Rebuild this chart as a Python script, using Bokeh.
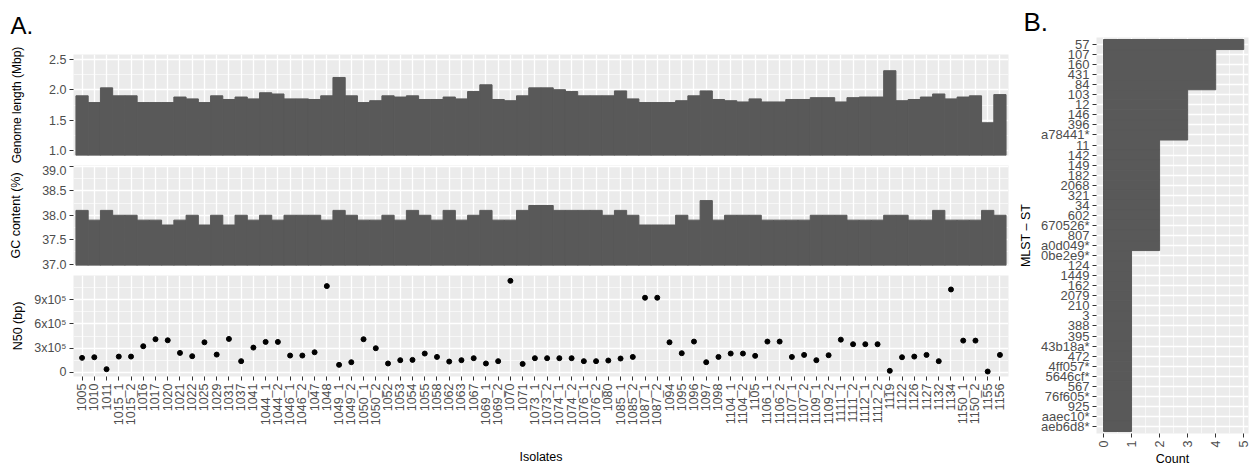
from math import pi
from bokeh.plotting import figure
from bokeh.models import FactorRange, Range1d, FixedTicker
from bokeh.layouts import row, column
from bokeh.embed import file_html
from bokeh.resources import INLINE

# ---------------- data ----------------
isolates = ["1005", "1010", "1011", "1015_1", "1015_2", "1016", "1017", "1020", "1021", "1022",
            "1025", "1029", "1031", "1037", "1041", "1044_1", "1044_2", "1046_1", "1046_2", "1047",
            "1048", "1049_1", "1049_2", "1050_1", "1050_2", "1052", "1053", "1054", "1055", "1058",
            "1062", "1063", "1067", "1069_1", "1069_2", "1070", "1071", "1073_1", "1073_2", "1074_1",
            "1074_2", "1076_1", "1076_2", "1080", "1085_1", "1085_2", "1087_1", "1087_2", "1094", "1095",
            "1096", "1097", "1098", "1104_1", "1104_2", "1105", "1106_1", "1106_2", "1107_1", "1107_2",
            "1109_1", "1109_2", "1111_1", "1111_2", "1112_1", "1112_2", "1119", "1122", "1126", "1127",
            "1132", "1134", "1150_1", "1150_2", "1155", "1156"]

genome_length_mbp = [1.90, 1.79, 2.03, 1.90, 1.90, 1.79, 1.79, 1.79, 1.88, 1.85,
                     1.79, 1.90, 1.84, 1.88, 1.85, 1.95, 1.93, 1.85, 1.85, 1.84,
                     1.90, 2.20, 1.90, 1.79, 1.82, 1.90, 1.88, 1.90, 1.84, 1.84,
                     1.88, 1.85, 1.97, 2.08, 1.84, 1.82, 1.90, 2.03, 2.03, 2.00,
                     1.97, 1.90, 1.90, 1.90, 1.98, 1.85, 1.79, 1.79, 1.79, 1.82,
                     1.90, 1.98, 1.84, 1.82, 1.80, 1.85, 1.80, 1.80, 1.84, 1.84,
                     1.87, 1.87, 1.80, 1.87, 1.88, 1.88, 2.31, 1.82, 1.84, 1.88,
                     1.93, 1.85, 1.88, 1.90, 1.46, 1.92]

gc_content_pct = [38.1, 37.9, 38.1, 38.0, 38.0, 37.9, 37.9, 37.8, 37.9, 38.0,
                  37.8, 38.0, 37.8, 38.0, 37.9, 38.0, 37.9, 38.0, 38.0, 38.0,
                  37.9, 38.1, 38.0, 37.9, 37.9, 38.0, 37.9, 38.1, 38.0, 37.9,
                  38.1, 37.9, 38.0, 38.1, 37.9, 37.9, 38.1, 38.2, 38.2, 38.1,
                  38.1, 38.1, 38.1, 38.0, 38.1, 38.0, 37.8, 37.8, 37.8, 38.0,
                  37.9, 38.3, 37.9, 38.0, 38.0, 38.0, 37.9, 37.9, 37.9, 37.9,
                  38.0, 38.0, 38.0, 37.9, 37.9, 37.9, 38.0, 38.0, 37.9, 37.9,
                  38.1, 37.9, 37.9, 37.9, 38.1, 38.0]

n50_bp = [178000, 186000, 37000, 194000, 194000, 323000, 410000, 397000, 240000, 199000,
          372000, 219000, 414000, 137000, 306000, 377000, 377000, 207000, 207000, 248000,
          1072000, 91000, 124000, 410000, 298000, 108000, 149000, 153000, 232000, 190000,
          132000, 149000, 174000, 108000, 137000, 1138000, 103000, 174000, 174000, 174000,
          174000, 137000, 137000, 145000, 170000, 190000, 927000, 927000, 372000, 236000,
          381000, 124000, 190000, 232000, 232000, 203000, 381000, 381000, 190000, 215000,
          149000, 211000, 405000, 348000, 348000, 348000, 17000, 186000, 194000, 215000,
          137000, 1030000, 393000, 393000, 8000, 215000]

mlst_st = ["57", "107", "160", "431", "84", "103", "12", "146", "396", "a78441*",
           "11", "142", "149", "182", "2068", "321", "34", "602", "670526*", "807",
           "a0d049*", "0be2e9*", "124", "1449", "162", "2079", "210", "3", "388", "395",
           "43b18a*", "472", "4ff057*", "5646cf*", "567", "76f605*", "925", "aaec10*", "aeb6d8*"]
mlst_count = [5, 4, 4, 4, 4, 3, 3, 3, 3, 3,
              2, 2, 2, 2, 2, 2, 2, 2, 2, 2,
              2, 1, 1, 1, 1, 1, 1, 1, 1, 1,
              1, 1, 1, 1, 1, 1, 1, 1, 1]

genome_ticks = [1.0, 1.5, 2.0, 2.5]
genome_tick_labels = ["1.0", "1.5", "2.0", "2.5"]
genome_minor = [1.25, 1.75, 2.25]
gc_ticks = [37.0, 37.5, 38.0, 38.5, 39.0]
gc_tick_labels = ["37.0", "37.5", "38.0", "38.5", "39.0"]
gc_minor = [37.25, 37.75, 38.25, 38.75]
n50_ticks = [0, 300000, 600000, 900000]
n50_tick_labels = ["0", "3x10\u2075", "6x10\u2075", "9x10\u2075"]
n50_minor = [150000, 450000, 750000, 1050000]
count_ticks = [0, 1, 2, 3, 4, 5]
count_minor = [0.5, 1.5, 2.5, 3.5, 4.5]

# ---------------- style ----------------
FONT = "Liberation Sans"
PANEL_BG = "#EBEBEB"
BAR = "#595959"
TICK_TXT = "#4D4D4D"
TICK_LINE = "#333333"


def style_fig(p):
    p.background_fill_color = PANEL_BG
    p.border_fill_color = "white"
    p.outline_line_color = None
    for g in p.grid:
        g.grid_line_color = "white"
        g.grid_line_width = 1.3
        g.minor_grid_line_color = "white"
        g.minor_grid_line_width = 0.6
    for ax in p.axis:
        ax.axis_line_color = None
        ax.major_tick_line_color = TICK_LINE
        ax.major_tick_out = 4
        ax.major_tick_in = 0
        ax.minor_tick_line_color = None
        ax.major_label_text_font = FONT
        ax.major_label_text_font_size = "12.5px"
        ax.major_label_text_color = TICK_TXT
        ax.major_label_standoff = 3
        ax.axis_label_text_font = FONT
        ax.axis_label_text_font_size = "12.5px"
        ax.axis_label_text_font_style = "normal"
        ax.axis_label_text_color = "black"
    p.title.text_font = FONT
    p.title.text_font_style = "normal"
    p.title.text_color = "black"


common = dict(output_backend="svg", toolbar_location=None, frame_width=935,
              min_border_left=73, min_border_right=7)

# header strip carrying the panel letter "A." as its title
head = figure(x_range=Range1d(0, 1), y_range=Range1d(0, 1), frame_height=1,
              min_border_top=43, min_border_bottom=0, title="A.", **common)
head.axis.visible = False
head.grid.visible = False
head.outline_line_color = None
head.background_fill_color = "white"
head.border_fill_color = "white"
head.title.text_font = FONT
head.title.text_font_style = "normal"
head.title.text_color = "black"
head.title.text_font_size = "24px"
head.title.offset = -63

xr = FactorRange(*isolates, range_padding=0.2, range_padding_units="absolute")

# Genome length
f1 = figure(x_range=xr, y_range=Range1d(0.925, 2.575), frame_height=101,
            min_border_top=10, min_border_bottom=10, **common)
f1.vbar(x=isolates, top=genome_length_mbp, bottom=0, width=1.0, color=BAR)
f1.yaxis.ticker = FixedTicker(ticks=genome_ticks, minor_ticks=genome_minor)
f1.yaxis.major_label_overrides = dict(zip(genome_ticks, genome_tick_labels))
f1.yaxis.axis_label = "Genome length (Mbp)"
f1.xaxis.visible = False
style_fig(f1)
f1.yaxis.axis_label_text_font_size = "12px"
f1.yaxis.axis_label_standoff = 22

# GC content
f2 = figure(x_range=xr, y_range=Range1d(36.97, 39.02), frame_height=100,
            min_border_top=0, min_border_bottom=10, **common)
f2.vbar(x=isolates, top=gc_content_pct, bottom=0, width=1.0, color=BAR)
f2.yaxis.ticker = FixedTicker(ticks=gc_ticks, minor_ticks=gc_minor)
f2.yaxis.major_label_overrides = dict(zip(gc_ticks, gc_tick_labels))
f2.yaxis.axis_label = "GC content (%)"
f2.xaxis.visible = False
style_fig(f2)
f2.yaxis.axis_label_standoff = 16

# N50
f3 = figure(x_range=xr, y_range=Range1d(-54000, 1204000), frame_height=101,
            min_border_top=0, min_border_bottom=88, **common)
f3.scatter(x=isolates, y=n50_bp, size=5, color="black")
f3.yaxis.ticker = FixedTicker(ticks=n50_ticks, minor_ticks=n50_minor)
f3.yaxis.major_label_overrides = dict(zip(n50_ticks, n50_tick_labels))
f3.yaxis.axis_label = "N50 (bp)"
f3.xaxis.axis_label = "Isolates"
style_fig(f3)
f3.xaxis.major_label_orientation = pi / 2
f3.yaxis.axis_label_standoff = 6
f3.xaxis.axis_label_standoff = 22

# MLST counts
yr = FactorRange(*list(reversed(mlst_st)), range_padding=0.2, range_padding_units="absolute")
f4 = figure(x_range=Range1d(-0.25, 5.17), y_range=yr, frame_width=152, frame_height=396,
            min_border_left=81, min_border_right=2, min_border_top=37, min_border_bottom=31,
            title="B.", output_backend="svg", toolbar_location=None)
f4.hbar(y=mlst_st, right=mlst_count, left=0, height=1.0, color=BAR)
f4.xaxis.ticker = FixedTicker(ticks=count_ticks, minor_ticks=count_minor)
f4.xaxis.axis_label = "Count"
f4.yaxis.axis_label = "MLST \u2013 ST"
style_fig(f4)
f4.yaxis.major_label_text_font_size = "13px"
f4.xaxis.major_label_orientation = pi / 2
f4.xaxis.axis_label_standoff = 2
f4.yaxis.axis_label_standoff = 5
f4.title.text_font_size = "26px"
f4.title.offset = -73
f4.title.standoff = 1

layout = row(column(head, f1, f2, f3), f4)

open("out.html", "w").write(file_html(layout, INLINE))
